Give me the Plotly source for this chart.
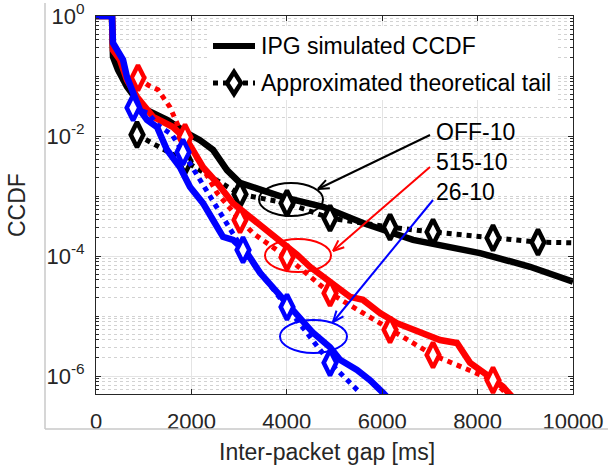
import math
import plotly.graph_objects as go

# ---------------- data ----------------
off_x = [0, 335, 356, 461, 650, 860, 1069, 1488, 1908, 2180, 2453, 2746, 3019, 3438, 3920,
         4759, 5597, 6646, 8050, 9099, 10000]
off_y = [1, 1, 0.209, 0.126, 0.0661, 0.0398, 0.0269, 0.0186, 0.0112, 0.00851, 0.00589, 0.00269,
         0.00166, 0.00126, 0.000955, 0.000661, 0.000355, 0.000186, 0.000112, 6.61e-5, 3.72e-5]

r515_x = [0, 335, 356, 503, 650, 860, 1195, 1614, 1908, 2243, 2537, 2872, 3229, 3585, 3857, 4214,
          4486, 4969, 5325, 5597, 5954, 6310, 6855, 7212, 7568, 7841, 8260, 8532, 8784]
r515_y = [1, 1, 0.269, 0.186, 0.0851, 0.0447, 0.0209, 0.0141, 0.00851, 0.00302, 0.00166, 0.000759,
          0.000447, 0.000269, 0.000186, 0.000105, 6.61e-5, 3.55e-5, 2.09e-5, 1.86e-5, 1.12e-5,
          7.59e-6, 5.25e-6, 3.98e-6, 3.55e-6, 1.66e-6, 9.55e-7, 6.61e-7, 3.98e-7]

b26_x = [0, 335, 356, 566, 650, 776, 922, 1069, 1279, 1488, 1761, 1971, 2243, 2453, 2662, 2872,
         3166, 3438, 3711, 4067, 4340, 4549, 4906, 5115, 5472, 5744, 6017, 6160]
b26_y = [1, 1, 0.355, 0.186, 0.0955, 0.0525, 0.0269, 0.0186, 0.0141, 0.00589, 0.00302, 0.00141,
         0.000759, 0.000398, 0.000209, 0.000186, 0.000112, 5.25e-5, 3.02e-5, 1.41e-5, 8.51e-6,
         5.25e-6, 3.02e-6, 1.86e-6, 1.26e-6, 8.51e-7, 5.25e-7, 3.98e-7]

off_tail_x = [860, 1866, 3019, 4004, 4906, 6164, 7065, 8323, 9266, 10000]
off_tail_y = [0.0105, 0.0038, 0.00107, 0.00076, 0.000427, 0.000302, 0.000251, 0.0002, 0.00017, 0.000166]
off_mark_x = [860, 1866, 3019, 4004, 4906, 6164, 7065, 8323, 9266]

r515_tail_x = [880, 1090, 1300, 1551, 1761, 1866, 2540, 3019, 3291, 4004, 4906, 6164, 7065, 8323, 8800]
r515_tail_y = [0.0933, 0.0708, 0.0589, 0.0302, 0.0126, 0.00955, 0.00112, 0.000398, 0.00024,
               9.55e-5, 2.4e-5, 5.89e-6, 2.24e-6, 8.51e-7, 3.55e-7]
r515_mark_x = [880, 1866, 3019, 4004, 4906, 6164, 7065, 8323]

b26_tail_x = [776, 1090, 1300, 1593, 1824, 2872, 3082, 4004, 4906, 5535]
b26_tail_y = [0.0295, 0.024, 0.0151, 0.0105, 0.00537, 0.00024, 0.000126, 1.41e-5, 1.66e-6, 5.25e-7]
b26_mark_x = [776, 1824, 3082, 4004, 4906]

x_ticks = [0, 2000, 4000, 6000, 8000, 10000]
x_ticktext = ["0", "2000", "4000", "6000", "8000", "10000"]
y_ticks = [1, 1e-2, 1e-4, 1e-6]
y_ticktext = ["10<sup>0</sup>", "10<sup>-2</sup>", "10<sup>-4</sup>", "10<sup>-6</sup>"]

legend_labels = ["IPG simulated CCDF", "Approximated theoretical tail"]
curve_labels = ["OFF-10", "515-10", "26-10"]

# ---------------- geometry helpers (pixel -> paper) ----------------
W, H = 608, 466
L, R, T, B = 96, 573, 16, 394
FONT = "Liberation Sans, Arial, sans-serif"
TXT = "#262626"


def px(x):
    return (x - L) / (R - L)


def py(y):
    return (B - y) / (B - T)


fig = go.Figure()


def add_series(x, y, tx, ty, mx, color):
    fig.add_trace(go.Scatter(x=x, y=y, mode="lines", line=dict(color=color, width=6.5),
                             showlegend=False, hoverinfo="skip"))
    fig.add_trace(go.Scatter(x=tx, y=ty, mode="lines", line=dict(color=color, width=5, dash="dot"),
                             showlegend=False, hoverinfo="skip"))
    lookup = dict(zip(tx, ty))
    fig.add_trace(go.Scatter(x=mx, y=[lookup[v] for v in mx], mode="markers",
                             marker=dict(symbol="diamond-tall", size=18, color="white",
                                         line=dict(color=color, width=4.5)),
                             showlegend=False, hoverinfo="skip", cliponaxis=True))


add_series(off_x, off_y, off_tail_x, off_tail_y, off_mark_x, "#000000")
add_series(r515_x, r515_y, r515_tail_x, r515_tail_y, r515_mark_x, "#ff0000")
add_series(b26_x, b26_y, b26_tail_x, b26_tail_y, b26_mark_x, "#0000ff")

# minor log grid values
minor_vals = []
for e in range(0, -7, -1):
    for k in range(2, 10):
        v = k * 10.0 ** (e - 1)
        if v >= 10 ** -6.3:
            minor_vals.append(v)
minor_vals += [1e-1, 1e-3, 1e-5]

shapes = []
# outer light frame
shapes.append(dict(type="line", xref="paper", yref="paper", x0=px(45), x1=px(45), y0=py(3), y1=py(429),
                   line=dict(color="#c8c8c8", width=1.5)))
shapes.append(dict(type="line", xref="paper", yref="paper", x0=px(45), x1=px(608), y0=py(429), y1=py(429),
                   line=dict(color="#c8c8c8", width=1.5)))
# legend background
shapes.append(dict(type="rect", xref="paper", yref="paper", x0=px(208), x1=px(557), y0=py(26), y1=py(100),
                   fillcolor="white", line=dict(width=0), layer="above"))
# legend samples
shapes.append(dict(type="line", xref="paper", yref="paper", x0=px(213), x1=px(255), y0=py(46), y1=py(46),
                   line=dict(color="black", width=6), layer="above"))
shapes.append(dict(type="line", xref="paper", yref="paper", x0=px(213), x1=px(255), y0=py(83), y1=py(83),
                   line=dict(color="black", width=5, dash="dot"), layer="above"))
cx, cy, hw, hh = 234, 83, 7, 11
shapes.append(dict(type="path", xref="paper", yref="paper",
                   path=f"M {px(cx-hw)},{py(cy)} L {px(cx)},{py(cy-hh)} L {px(cx+hw)},{py(cy)} L {px(cx)},{py(cy+hh)} Z",
                   fillcolor="white", line=dict(color="black", width=4.5), layer="above"))
# ellipses
for (x0, x1, y0, y1, c) in [(259, 323, 183, 216, "black"), (265, 331, 239, 272, "red"), (280, 347, 320, 353, "blue")]:
    shapes.append(dict(type="circle", xref="paper", yref="paper", x0=px(x0), x1=px(x1), y0=py(y1), y1=py(y0),
                       line=dict(color=c, width=2), layer="above"))

# arrows (shaft + open head) drawn as lines
arrows = [((430, 135), (318, 189), "black"), ((430, 167), (333, 251), "red"), ((433, 200), (333, 322), "blue")]
for tail, head, c in arrows:
    shapes.append(dict(type="line", xref="paper", yref="paper", x0=px(tail[0]), y0=py(tail[1]),
                       x1=px(head[0]), y1=py(head[1]), line=dict(color=c, width=2), layer="above"))
    dx, dy = head[0] - tail[0], head[1] - tail[1]
    n = math.hypot(dx, dy)
    ux, uy = dx / n, dy / n
    nx, ny = -uy, ux
    for s in (1, -1):
        bx = head[0] - 11 * ux + s * 4.5 * nx
        by = head[1] - 11 * uy + s * 4.5 * ny
        shapes.append(dict(type="line", xref="paper", yref="paper", x0=px(head[0]), y0=py(head[1]),
                           x1=px(bx), y1=py(by), line=dict(color=c, width=2), layer="above"))

annotations = []
annotations.append(dict(text=legend_labels[0], xref="paper", yref="paper", x=px(259), y=py(46),
                        xanchor="left", yanchor="middle", showarrow=False, font=dict(size=23, color="black", family=FONT)))
annotations.append(dict(text=legend_labels[1], xref="paper", yref="paper", x=px(259), y=py(83),
                        xanchor="left", yanchor="middle", showarrow=False, font=dict(size=23, color="black", family=FONT)))
for lab, ty in zip(curve_labels, [132, 162, 192]):
    annotations.append(dict(text=lab, xref="paper", yref="paper", x=px(434), y=py(ty),
                            xanchor="left", yanchor="middle", showarrow=False,
                            font=dict(size=23, color="black", family=FONT)))
# axis titles
annotations.append(dict(text="Inter-packet gap [ms]", xref="paper", yref="paper", x=px(327), y=py(452),
                        xanchor="center", yanchor="middle", showarrow=False, font=dict(size=23, color=TXT, family=FONT)))
annotations.append(dict(text="CCDF", xref="paper", yref="paper", x=px(17), y=py(205), textangle=-90,
                        xanchor="center", yanchor="middle", showarrow=False, font=dict(size=23, color=TXT, family=FONT)))

fig.update_layout(
    width=W, height=H,
    margin=dict(l=L, r=W - R, t=T, b=H - B, autoexpand=False),
    paper_bgcolor="white", plot_bgcolor="white",
    showlegend=False,
    font=dict(family=FONT, color=TXT, size=22),
    shapes=shapes, annotations=annotations,
    xaxis=dict(range=[0, 10000], tickvals=x_ticks, ticktext=x_ticktext, ticks="inside", ticklen=5, tickcolor=TXT,
               showline=True, linecolor=TXT, linewidth=1, mirror="ticks",
               showgrid=True, gridcolor="#e4e4e4", gridwidth=1, zeroline=False,
               tickfont=dict(size=22, color=TXT, family=FONT), ticklabelstandoff=8),
    yaxis=dict(type="log", range=[-6.3, 0], tickvals=y_ticks, ticktext=y_ticktext,
               ticks="inside", ticklen=5, tickcolor=TXT,
               showline=True, linecolor=TXT, linewidth=1, mirror="ticks",
               showgrid=True, gridcolor="#e4e4e4", gridwidth=1, zeroline=False,
               tickfont=dict(size=22, color=TXT, family=FONT), ticklabelstandoff=6,
               minor=dict(tickvals=minor_vals, ticks="inside", ticklen=3, tickcolor=TXT,
                          showgrid=True, gridcolor="#d2d2d2", griddash="dot", gridwidth=1)),
)

fig.write_html("out.html")
